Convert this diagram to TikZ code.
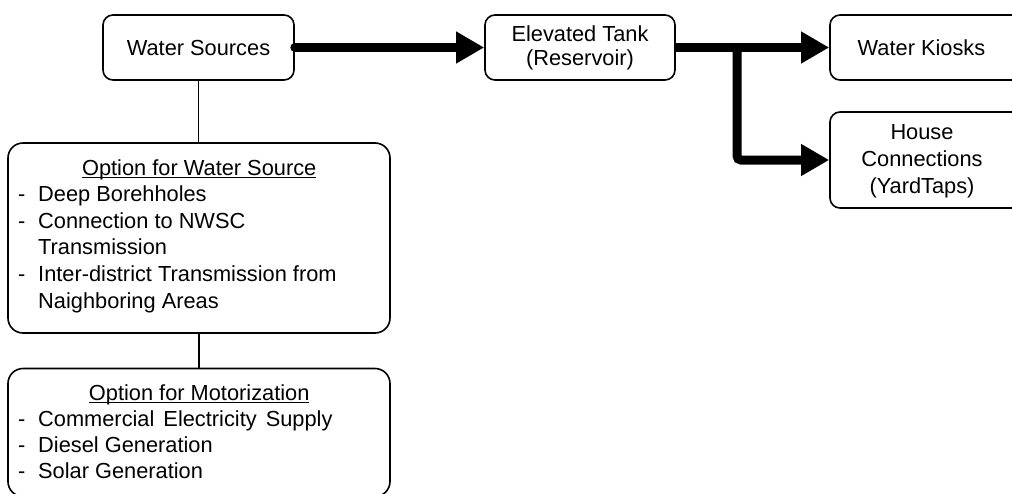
\documentclass[tikz,border=0pt]{standalone}
\usepackage{fontspec}
\setmainfont{Liberation Sans}
\usetikzlibrary{arrows.meta}
\newcommand\myul[1]{\setbox0\hbox{#1}\rlap{\rule[-2.8pt]{\wd0}{1.1pt}}\box0}
\newcommand\myitem{\par\leftskip=30pt\noindent\llap{\hbox to 20pt{-\hfil}}}
\tikzset{
  every node/.style={font=\fontsize{21.8}{26.5}\selectfont},
  smallbox/.style={draw, line width=1.6pt, rounded corners=10pt, align=center, inner sep=0pt},
  bigbox/.style={draw, line width=1.6pt, rounded corners=15pt, inner sep=0pt},
  plaintext/.style={align=center, inner sep=0pt},
  flow/.style={line width=9pt, -{Triangle[length=28pt,width=30pt]}},
  link/.style={line width=1.3pt},
  listtext/.style={anchor=base west, inner sep=0pt}
}
\begin{document}
\begin{tikzpicture}[x=1pt,y=-1pt]
\clip (0,0) rectangle (1012,493);
\useasboundingbox (0,0) rectangle (1012,493);
% top row
\node[smallbox, minimum width=191pt, minimum height=65pt] (src) at (198.5,47.5) {Water Sources};
\node[smallbox, minimum width=190pt, minimum height=65pt, font=\fontsize{21.8}{24}\selectfont] (tank) at (580,47.5) {Elevated Tank\\(Reservoir)};
\node[smallbox, minimum width=192pt, minimum height=65pt] (kioskbox) at (926,47.5) {};
\node[plaintext] (kiosk) at (921.5,47.5) {Water Kiosks};
\node[smallbox, minimum width=192pt, minimum height=96pt] (housebox) at (926,160) {};
\node[plaintext, font=\fontsize{21.8}{27}\selectfont] (house) at (922,161) {House\\Connections\\(YardTaps)};
% option boxes
\node[bigbox, minimum width=382pt, minimum height=190pt] (opt1) at (199,238) {};
\node[bigbox, minimum width=382pt, minimum height=128pt] (opt2) at (199,432.5) {};
\node[listtext] (t1) at (8,175) {\vtop{\hsize=382pt\parindent=0pt\parskip=0pt\rightskip=0pt plus 1fil\baselineskip=26.6pt
\hbox to\hsize{\hfil\myul{Option for Water Source}\hfil}
\myitem Deep Borehholes
\myitem Connection to NWSC\newline Transmission
\myitem Inter-district Transmission from\newline Naighboring Areas\par}};
\node[listtext] (t2) at (8,400) {\vtop{\hsize=382pt\parindent=0pt\parskip=0pt\rightskip=0pt plus 1fil\baselineskip=26.2pt
\hbox to\hsize{\hfil\myul{Option for Motorization}\hfil}
\myitem Commercial\hspace{3pt} Electricity\hspace{3pt} Supply
\myitem Diesel Generation
\myitem Solar Generation\par}};
% connectors
\draw[flow, line cap=round] (src.east) -- (tank.west);
\draw[flow] (tank.east) -- (kioskbox.west);
\coordinate (br) at (737,47.5);
\draw[flow, rounded corners=4pt] (br) |- (housebox.west);
\draw[link] (src.south) -- (src.south |- opt1.north);
\draw[link] (opt1.south) -- (opt1.south |- opt2.north);
\end{tikzpicture}
\end{document}
